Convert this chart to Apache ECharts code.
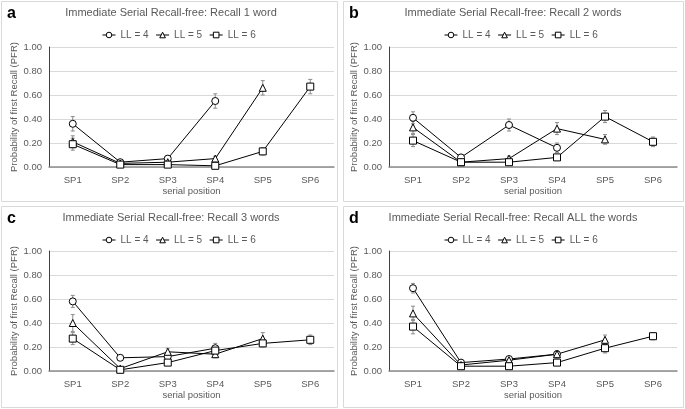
<!DOCTYPE html>
<html><head><meta charset="utf-8">
<script src="https://cdn.jsdelivr.net/npm/echarts@6/dist/echarts.min.js"></script>
<style>html,body{margin:0;padding:0;background:#fff}#c{width:685px;height:409px}</style>
</head><body><div id="c"></div>
<script>
var categories = ['SP1','SP2','SP3','SP4','SP5','SP6'];
var seriesNames = ['LL = 4','LL = 5','LL = 6'];
var panelTitles = ['Immediate Serial Recall-free: Recall 1 word','Immediate Serial Recall-free: Recall 2 words','Immediate Serial Recall-free: Recall 3 words','Immediate Serial Recall-free: Recall ALL the words'];
var panelLetters = ['a','b','c','d'];
var yTicks = [0, 0.2, 0.4, 0.6, 0.8, 1.0];

// panel a
var a_LL4 = [0.36,0.04,0.07,0.55];
var a_LL5 = [0.21,0.03,0.04,0.07,0.66];
var a_LL6 = [0.19,0.02,0.02,0.01,0.13,0.67];
var a_err4 = [0.06,0.01,0.02,0.06];
var a_err5 = [0.05,0.01,0.01,0.02,0.06];
var a_err6 = [0.05,0.01,0.01,0.01,0.03,0.06];
// panel b
var b_LL4 = [0.41,0.08,0.35,0.16];
var b_LL5 = [0.33,0.04,0.07,0.32,0.23];
var b_LL6 = [0.22,0.04,0.04,0.08,0.42,0.21];
var b_err4 = [0.05,0.02,0.05,0.04];
var b_err5 = [0.05,0.01,0.02,0.05,0.04];
var b_err6 = [0.05,0.01,0.01,0.02,0.05,0.04];
// panel c
var c_LL4 = [0.58,0.11,0.12,0.19];
var c_LL5 = [0.40,0.02,0.16,0.14,0.27];
var c_LL6 = [0.27,0.01,0.07,0.17,0.23,0.26];
var c_err4 = [0.05,0.01,0.03,0.04];
var c_err5 = [0.07,0.01,0.03,0.03,0.05];
var c_err6 = [0.05,0.01,0.02,0.04,0.03,0.04];
// panel d
var d_LL4 = [0.69,0.07,0.10,0.14];
var d_LL5 = [0.48,0.05,0.09,0.14,0.26];
var d_LL6 = [0.37,0.04,0.04,0.07,0.19,0.29];
var d_err4 = [0.04,0.01,0.02,0.03];
var d_err5 = [0.06,0.01,0.02,0.03,0.04];
var d_err6 = [0.06,0.01,0.01,0.02,0.04,0.03];

var panelValues = [[a_LL4,a_LL5,a_LL6],[b_LL4,b_LL5,b_LL6],[c_LL4,c_LL5,c_LL6],[d_LL4,d_LL5,d_LL6]];
var panelErrors = [[a_err4,a_err5,a_err6],[b_err4,b_err5,b_err6],[c_err4,c_err5,c_err6],[d_err4,d_err5,d_err6]];

var FONT = 'Liberation Sans, Arial, sans-serif';
var symbols = ['circle','triangle','rect'];
var boxes = [
  {bx:1, by:1, bw:336, bh:200, gl:49, gt:47, gw:285, gh:120, cx:171},
  {bx:343, by:1, bw:340, bh:200, gl:389, gt:47, gw:288, gh:120, cx:513},
  {bx:1, by:206, bw:336, bh:201, gl:49, gt:251, gw:285, gh:120, cx:171},
  {bx:343, by:206, bw:340, bh:201, gl:389, gt:251, gw:288, gh:120, cx:513}
];

var grids=[], xAxes=[], yAxes=[], series=[], legends=[], graphics=[];
boxes.forEach(function(b, p){
  grids.push({left:b.gl, top:b.gt, width:b.gw, height:b.gh});
  xAxes.push({type:'category', gridIndex:p, data:categories, boundaryGap:true,
    axisLine:{lineStyle:{color:'#8c8c8c', width:1.5}}, axisTick:{show:false},
    axisLabel:{color:'#595959', fontSize:9.5, fontFamily:FONT, margin:8},
    name:'serial position', nameLocation:'middle', nameGap:19,
    nameTextStyle:{color:'#595959', fontSize:9.5, fontFamily:FONT}});
  yAxes.push({type:'value', gridIndex:p, min:yTicks[0], max:yTicks[yTicks.length-1], interval:0.2,
    axisLine:{show:true, lineStyle:{color:'#404040', width:1}}, axisTick:{show:false},
    splitLine:{lineStyle:{color:'#d9d9d9', width:1}},
    axisLabel:{color:'#595959', fontSize:9.5, fontFamily:FONT, margin:7, formatter:function(v){return v.toFixed(2);}},
    name:'Probability of first Recall (PFR)', nameLocation:'middle', nameGap:28,
    nameTextStyle:{color:'#595959', fontSize:9.5, fontFamily:FONT}});
  legends.push({data:seriesNames, left:b.cx-74, top:b.by+24, itemWidth:13, itemHeight:7, itemGap:7,
    textStyle:{color:'#595959', fontSize:10, fontFamily:FONT}, selectedMode:false,
    lineStyle:{width:1, color:'#000'}, itemStyle:{borderWidth:1, borderColor:'#000', color:'#fff'}});
  graphics.push({type:'rect', shape:{x:b.bx+0.5, y:b.by+0.5, width:b.bw, height:b.bh},
    style:{fill:'none', stroke:'#d9d9d9', lineWidth:1}, silent:true, z:-1});
  graphics.push({type:'text', x:b.cx, y:b.by+12, silent:true,
    style:{text:panelTitles[p], fill:'#595959', font:'11px '+FONT, textAlign:'center', textVerticalAlign:'middle'}});
  graphics.push({type:'text', x:b.bx+6, y:b.by+13, silent:true,
    style:{text:panelLetters[p], fill:'#000', font:'bold 16px '+FONT, textAlign:'left', textVerticalAlign:'middle'}});
  for (var s=0; s<3; s++){
    var vals = panelValues[p][s], errs = panelErrors[p][s];
    var errData = vals.map(function(v,i){return [i, v-errs[i], v+errs[i]];});
    series.push({type:'custom', xAxisIndex:p, yAxisIndex:p, silent:true, z:1,
      data:errData, encode:{x:0, y:[1,2]},
      renderItem:function(params, api){
        var lo = api.coord([api.value(0), api.value(1)]);
        var hi = api.coord([api.value(0), api.value(2)]);
        var st = {stroke:'#8c8c8c', lineWidth:1};
        return {type:'group', children:[
          {type:'line', shape:{x1:lo[0], y1:lo[1], x2:hi[0], y2:hi[1]}, style:st},
          {type:'line', shape:{x1:lo[0]-2, y1:lo[1], x2:lo[0]+2, y2:lo[1]}, style:st},
          {type:'line', shape:{x1:hi[0]-2, y1:hi[1], x2:hi[0]+2, y2:hi[1]}, style:st}
        ]};
      }});
    series.push({type:'line', name:seriesNames[s], xAxisIndex:p, yAxisIndex:p, data:vals, z:2,
      symbol:symbols[s], symbolSize:7, showAllSymbol:true,
      lineStyle:{color:'#000', width:1},
      itemStyle:{color:'#fff', borderColor:'#000', borderWidth:1},
      emphasis:{disabled:true}, animation:false});
  }
});

var chart = echarts.init(document.getElementById('c'));
chart.setOption({animation:false, legend:legends, grid:grids, xAxis:xAxes, yAxis:yAxes, series:series, graphic:graphics});
</script></body></html>
